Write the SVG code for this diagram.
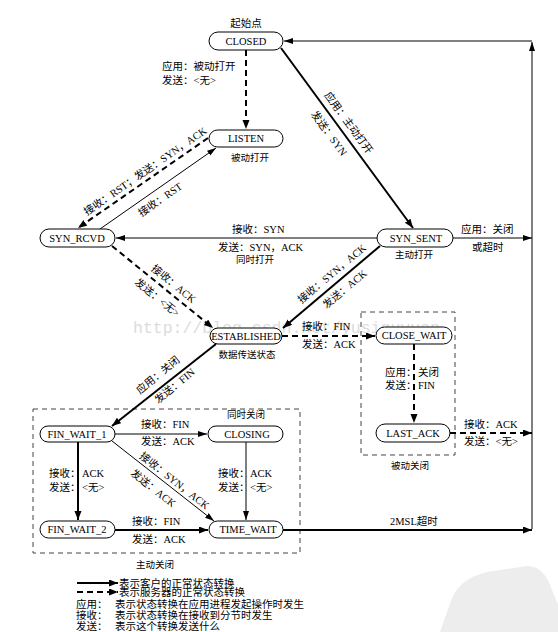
<svg xmlns="http://www.w3.org/2000/svg" width="558" height="632" viewBox="0 0 558 632">
<style>
.bg{fill:#fff}
.node rect{fill:#fff;stroke:#000;stroke-width:1}
.nt{font-family:"Liberation Serif","Noto Sans CJK SC",serif;font-size:10.5px;text-anchor:middle;fill:#000}
.lb{font-family:"Liberation Serif","Noto Sans CJK SC",serif;font-size:10.5px;fill:#000}
.mid{text-anchor:middle}
.sm{font-size:9.5px}
.thick{stroke:#000;stroke-width:2;fill:none}
.thin{stroke:#000;stroke-width:1;fill:none}
.dash{stroke:#000;stroke-width:2;stroke-dasharray:6 4;fill:none}
.box{fill:none;stroke:#444;stroke-width:1;stroke-dasharray:5 4}
.wm{font-family:"Liberation Mono",monospace;font-size:16.5px;fill:#dcdcdc}
</style>
<defs>
<marker id="ah" markerUnits="userSpaceOnUse" markerWidth="10" markerHeight="8" refX="9" refY="3.5" orient="auto"><path d="M0,0 L9,3.5 L0,7 Z" fill="#000"/></marker>
<marker id="ahs" markerUnits="userSpaceOnUse" markerWidth="10" markerHeight="8" refX="9" refY="3" orient="auto"><path d="M0,0 L9,3 L0,6 Z" fill="#000"/></marker>
</defs>
<rect class="bg" x="0" y="0" width="558" height="632"/>

<!-- faint watermarks -->
<path d="M440,632 L452,598 Q462,574 500,570 L528,566 Q544,566 552,590 L558,604 L558,632 Z" fill="#ededed"/>
<text class="wm" x="133" y="333">http://blog.csdn.net/yusiguyuan</text>

<!-- dashed region boxes -->
<rect class="box" x="361" y="312" width="94" height="143"/>
<rect class="box" x="33" y="409" width="267" height="144"/>

<g id="connectors">
<path class="dash" d="M246,50 V129" marker-end="url(#ah)"/>
<path class="thick" d="M281,48 L413,228" marker-end="url(#ah)"/>
<path class="dash" d="M208,138 L78,228" marker-end="url(#ah)"/>
<path class="thin" d="M100,229 L216,148" marker-end="url(#ahs)"/>
<path class="thin" d="M377,238 H116" marker-end="url(#ahs)"/>
<path class="dash" d="M112,246 L213,328" marker-end="url(#ah)"/>
<path class="thick" d="M380,246 L283,328" marker-end="url(#ah)"/>
<path class="thin" d="M453,238 H532" marker-end="url(#ahs)"/>
<path class="thin" d="M532,529 V42" marker-end="url(#ahs)"/>
<path class="thin" d="M532,41 H284" stroke="#555" marker-end="url(#ahs)"/>
<path class="dash" d="M282,336 H375" marker-end="url(#ah)"/>
<path class="dash" d="M414,344 V423" marker-end="url(#ah)"/>
<path class="dash" d="M450,433 H532" marker-end="url(#ah)"/>
<path class="thick" d="M216,344 L112,426" marker-end="url(#ah)"/>
<path class="thin" d="M115,434 H207" marker-end="url(#ahs)"/>
<path class="thick" d="M78,442 V520" marker-end="url(#ah)"/>
<path class="thin" d="M112,441 L214,521" marker-end="url(#ahs)"/>
<path class="thin" d="M246,442 V520" marker-end="url(#ahs)"/>
<path class="thick" d="M115,530 H208" marker-end="url(#ah)"/>
<path class="thick" d="M283,530 H532" marker-end="url(#ah)"/>
</g>

<g id="edge-labels">
<text class="lb" x="162" y="70">应用：被动打开</text>
<text class="lb" x="162" y="84">发送：&lt;无&gt;</text>
<g transform="translate(340,129) rotate(53.7)">
<text class="lb mid" x="0" y="-7">应用：主动打开</text>
<text class="lb mid" x="-3" y="15">发送：SYN</text>
</g>
<g transform="translate(146,181) rotate(-34.7)">
<text class="lb mid" x="5" y="-5">接收：RST；发送：SYN，ACK</text>
</g>
<g transform="translate(160,187) rotate(-34.9)">
<text class="lb mid" x="-7" y="14">接收：RST</text>
</g>
<text class="lb" x="232" y="233">接收：SYN</text>
<text class="lb" x="218" y="251">发送：SYN，ACK</text>
<text class="lb sm" x="236" y="263">同时打开</text>
<text class="lb" x="461" y="233">应用：关闭</text>
<text class="lb" x="472" y="251">或超时</text>
<g transform="translate(166,290) rotate(39.1)">
<text class="lb mid" x="2" y="-6">接收：ACK</text>
<text class="lb mid" x="-2" y="15">发送：&lt;无&gt;</text>
</g>
<g transform="translate(338,281) rotate(-39.9)">
<text class="lb mid" x="0" y="-6">接收：SYN，ACK</text>
<text class="lb mid" x="0" y="14">发送：ACK</text>
</g>
<text class="lb" x="302" y="330">接收：FIN</text>
<text class="lb" x="302" y="348">发送：ACK</text>
<text class="lb" x="385" y="376">应用：</text>
<text class="lb" x="418" y="376">关闭</text>
<text class="lb" x="385" y="389">发送：</text>
<text class="lb" x="418" y="389">FIN</text>
<text class="lb" x="464" y="428">接收：ACK</text>
<text class="lb" x="464" y="445">发送：&lt;无&gt;</text>
<g transform="translate(160,387) rotate(-39.4)">
<text class="lb mid" x="6" y="-7">应用：关闭</text>
<text class="lb mid" x="12" y="12">发送：FIN</text>
</g>
<text class="lb" x="141" y="428">接收：FIN</text>
<text class="lb" x="141" y="445">发送：ACK</text>
<g transform="translate(165,483) rotate(38.1)">
<text class="lb mid" x="6" y="-4">接收：SYN，ACK</text>
<text class="lb mid" x="-6" y="15">发送：ACK</text>
</g>
<text class="lb" x="49" y="477">接收：</text>
<text class="lb" x="82" y="477">ACK</text>
<text class="lb" x="49" y="491">发送：</text>
<text class="lb" x="82" y="491">&lt;无&gt;</text>
<text class="lb" x="218" y="477">接收：</text>
<text class="lb" x="250" y="477">ACK</text>
<text class="lb" x="218" y="491">发送：</text>
<text class="lb" x="250" y="491">&lt;无&gt;</text>
<text class="lb" x="132" y="525">接收：FIN</text>
<text class="lb" x="132" y="543">发送：ACK</text>
<text class="lb" x="390" y="525">2MSL超时</text>
</g>

<g id="CLOSED" class="node">
<text class="lb mid" x="246" y="27">起始点</text>
<rect x="209" y="32" width="74" height="18" rx="9"/>
<text class="nt" x="246" y="45">CLOSED</text>
</g>
<g id="LISTEN" class="node">
<rect x="209" y="130" width="74" height="17" rx="8.5"/>
<text class="nt" x="246" y="142">LISTEN</text>
<text class="lb mid sm" x="250" y="161">被动打开</text>
</g>
<g id="SYN_RCVD" class="node">
<rect x="40" y="229" width="75" height="18" rx="9"/>
<text class="nt" x="77" y="242">SYN_RCVD</text>
</g>
<g id="SYN_SENT" class="node">
<rect x="377" y="229" width="76" height="18" rx="9"/>
<text class="nt" x="416" y="242">SYN_SENT</text>
<text class="lb mid sm" x="414" y="258">主动打开</text>
</g>
<g id="ESTABLISHED" class="node">
<rect x="210" y="328" width="72" height="16" rx="8"/>
<text class="nt" x="246" y="340">ESTABLISHED</text>
<text class="lb mid sm" x="247" y="358">数据传送状态</text>
</g>
<g id="CLOSE_WAIT" class="node">
<rect x="376" y="327" width="76" height="17" rx="8.5"/>
<text class="nt" x="414" y="339">CLOSE_WAIT</text>
</g>
<g id="LAST_ACK" class="node">
<rect x="376" y="424" width="74" height="18" rx="9"/>
<text class="nt" x="413" y="437">LAST_ACK</text>
<text class="lb mid sm" x="410" y="469">被动关闭</text>
</g>
<g id="FIN_WAIT_1" class="node">
<rect x="40" y="426" width="75" height="16" rx="8"/>
<text class="nt" x="77" y="438">FIN_WAIT_1</text>
</g>
<g id="CLOSING" class="node">
<text class="lb mid sm" x="246" y="418">同时关闭</text>
<rect x="208" y="426" width="75" height="16" rx="8"/>
<text class="nt" x="247" y="438">CLOSING</text>
</g>
<g id="FIN_WAIT_2" class="node">
<rect x="40" y="521" width="75" height="17" rx="8.5"/>
<text class="nt" x="77" y="533">FIN_WAIT_2</text>
</g>
<g id="TIME_WAIT" class="node">
<rect x="209" y="521" width="74" height="17" rx="8.5"/>
<text class="nt" x="248" y="533">TIME_WAIT</text>
<text class="lb mid sm" x="155" y="568">主动关闭</text>
</g>

<g id="legend">
<path class="thick" d="M77,583 H118" marker-end="url(#ah)"/>
<text class="lb" x="119" y="587">表示客户的正常状态转换</text>
<path class="dash" d="M77,592 H118" marker-end="url(#ah)"/>
<text class="lb" x="119" y="596">表示服务器的正常状态转换</text>
<text class="lb" x="76" y="608">应用：</text>
<text class="lb" x="115" y="608">表示状态转换在应用进程发起操作时发生</text>
<text class="lb" x="76" y="619">接收：</text>
<text class="lb" x="115" y="619">表示状态转换在接收到分节时发生</text>
<text class="lb" x="76" y="630">发送：</text>
<text class="lb" x="115" y="630">表示这个转换发送什么</text>
</g>
</svg>
